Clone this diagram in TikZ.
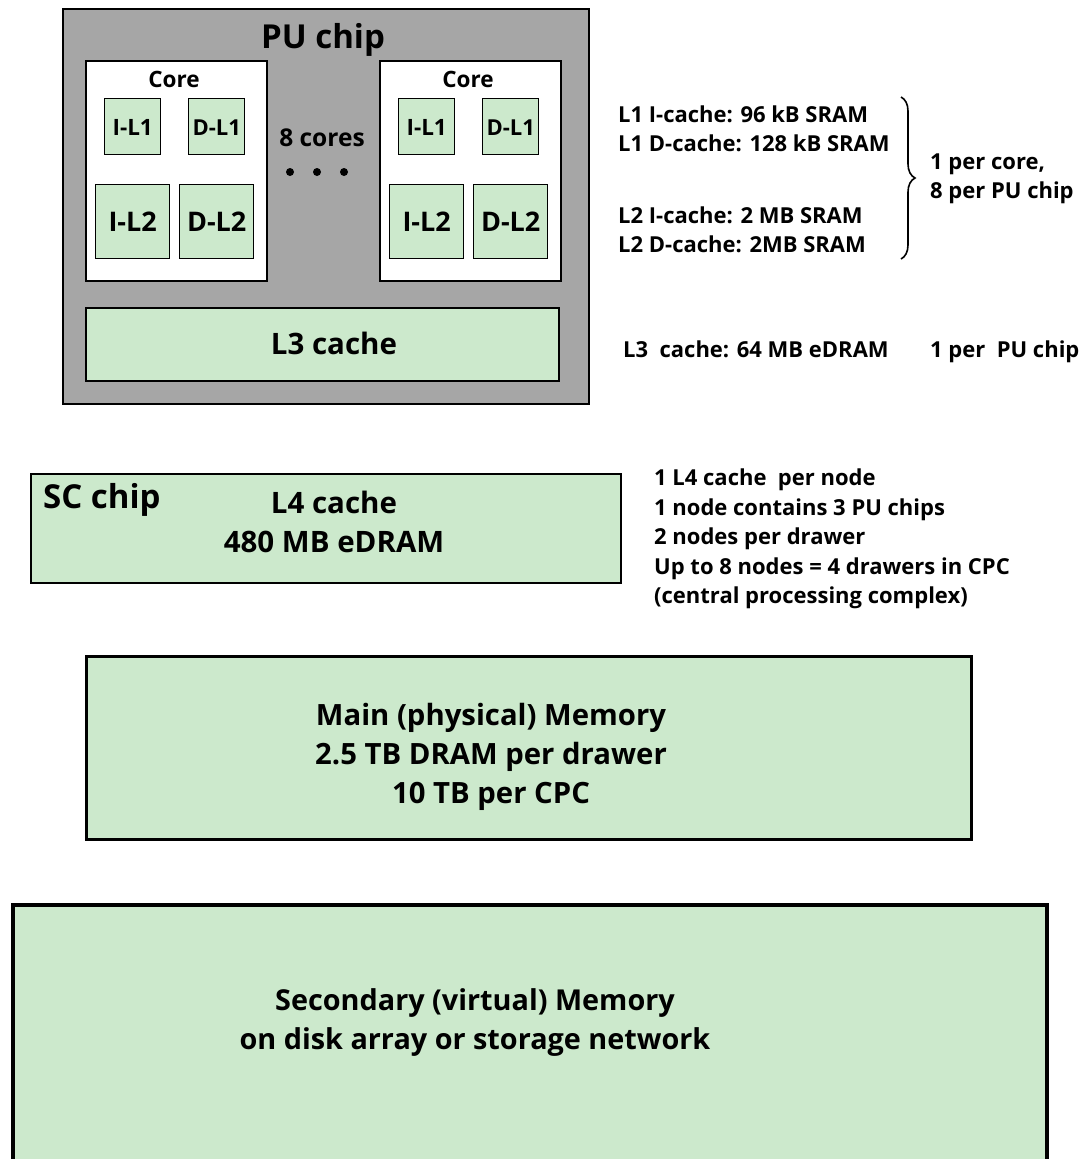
\documentclass[tikz,border=0pt]{standalone}
\usepackage{fontspec}
\setmainfont{Open Sans}
\usetikzlibrary{decorations.pathreplacing}
\definecolor{cgreen}{RGB}{204,233,204}
\definecolor{cgray}{RGB}{166,166,166}
\begin{document}
\begin{tikzpicture}[x=1pt,y=-1pt,
  box/.style={draw=black, line width=1.6pt, fill=cgreen, inner sep=0pt, anchor=north west},
  txt/.style={inner sep=0pt, font=\bfseries\fontsize{#1}{#1}\selectfont},
  txt/.default=22,
  ann/.style={txt=22, anchor=base west},
  ctr/.style={txt=#1, anchor=base},
  ctr/.default=29.3]
\useasboundingbox (0,0) rectangle (1080,1159);
% PU chip
\node[box, fill=cgray, line width=2pt, minimum width=526pt, minimum height=395pt] (pu) at (62,8) {};
\node[ctr=33] (putxt) at (323,48) {PU chip};
% cores
\foreach \n/\x in {a/85,b/379}{
  \node[box, fill=white, line width=2pt, minimum width=181pt, minimum height=220pt] (core\n) at (\x,60) {};
  \node[ctr=22.5] (coretxt\n) at (\x+89,87) {Core};
  \node[box, line width=1.4pt, minimum width=56pt, minimum height=56pt] (il1\n) at (\x+19,98) {};
  \node[ctr=22.5] at (il1\n.center) [yshift=-8.5pt] (il1t\n) {I-L1};
  \node[box, line width=1.4pt, minimum width=56pt, minimum height=56pt] (dl1\n) at (\x+103,98) {};
  \node[ctr=22] at (dl1\n.center) [yshift=-8.5pt] (dl1t\n) {D-L1};
  \node[box, line width=1.4pt, minimum width=74pt, minimum height=74pt] (il2\n) at (\x+10,184) {};
  \node[ctr=27] at (il2\n.center) [yshift=-10pt] (il2t\n) {I-L2};
  \node[box, line width=1.4pt, minimum width=74pt, minimum height=74pt] (dl2\n) at (\x+94,184) {};
  \node[ctr=27] at (dl2\n.center) [yshift=-10pt] (dl2t\n) {D-L2};
}
\node[ctr=24.5] (eight) at (322,146) {8 cores};
\foreach \i/\x in {1/290,2/317,3/344}{
  \fill (\x,172) circle (4pt) coordinate (dot\i);
}
% L3
\node[box, line width=1.6pt, minimum width=473pt, minimum height=73pt] (l3) at (85,307) {};
\node[ctr=29.5] (l3t) at (334,354) {L3 cache};
% annotations
\node[ann] (a1) at (618,122) {L1 I-cache: 96 kB SRAM};
\node[ann] (a2) at (618,151) {L1 D-cache: 128 kB SRAM};
\node[ann] (a3) at (618,223) {L2 I-cache: 2 MB SRAM};
\node[ann] (a4) at (618,252) {L2 D-cache: 2MB SRAM};
\coordinate (bt) at (901,97);
\coordinate (bb) at (901,259);
\draw[line width=1.6pt, decorate, decoration={brace, amplitude=14pt, aspect=0.5}] (bt) -- (bb);
\node[ann] (a5) at (930,169) {1 per core,};
\node[ann] (a6) at (930,198) {8 per PU chip};
\node[ann] (a7) at (623,357) {L3\ \ cache: 64 MB eDRAM};
\node[ann] (a8) at (930,357) {1 per\ \ PU chip};
% SC chip
\node[box, line width=1.8pt, minimum width=590pt, minimum height=109pt] (sc) at (30,473) {};
\node[txt=33, anchor=base west] (sct) at (43,508) {SC chip};
\node[ctr=29.5] (l4a) at (334,513) {L4 cache};
\node[ctr=29.5] (l4b) at (334,552) {480 MB eDRAM};
\node[ann] (b1) at (654,485) {1 L4 cache\ \ per node};
\node[ann] (b2) at (654,515) {1 node contains 3 PU chips};
\node[ann] (b3) at (654,544) {2 nodes per drawer};
\node[ann] (b4) at (654,574) {Up to 8 nodes = 4 drawers in CPC};
\node[ann] (b5) at (654,603) {(central processing complex)};
% main memory
\node[box, line width=3pt, minimum width=885pt, minimum height=183pt] (mm) at (85,655) {};
\node[ctr] (m1) at (491,725) {Main (physical) Memory};
\node[ctr] (m2) at (491,764) {2.5 TB DRAM per drawer};
\node[ctr] (m3) at (491,803) {10 TB per CPC};
% secondary
\node[box, line width=4pt, minimum width=1034pt, minimum height=256pt] (sec) at (11,903) {};
\node[ctr=28.8] (s1) at (475,1010) {Secondary (virtual) Memory};
\node[ctr=28.8] (s2) at (475,1049) {on disk array or storage network};
\end{tikzpicture}
\end{document}
